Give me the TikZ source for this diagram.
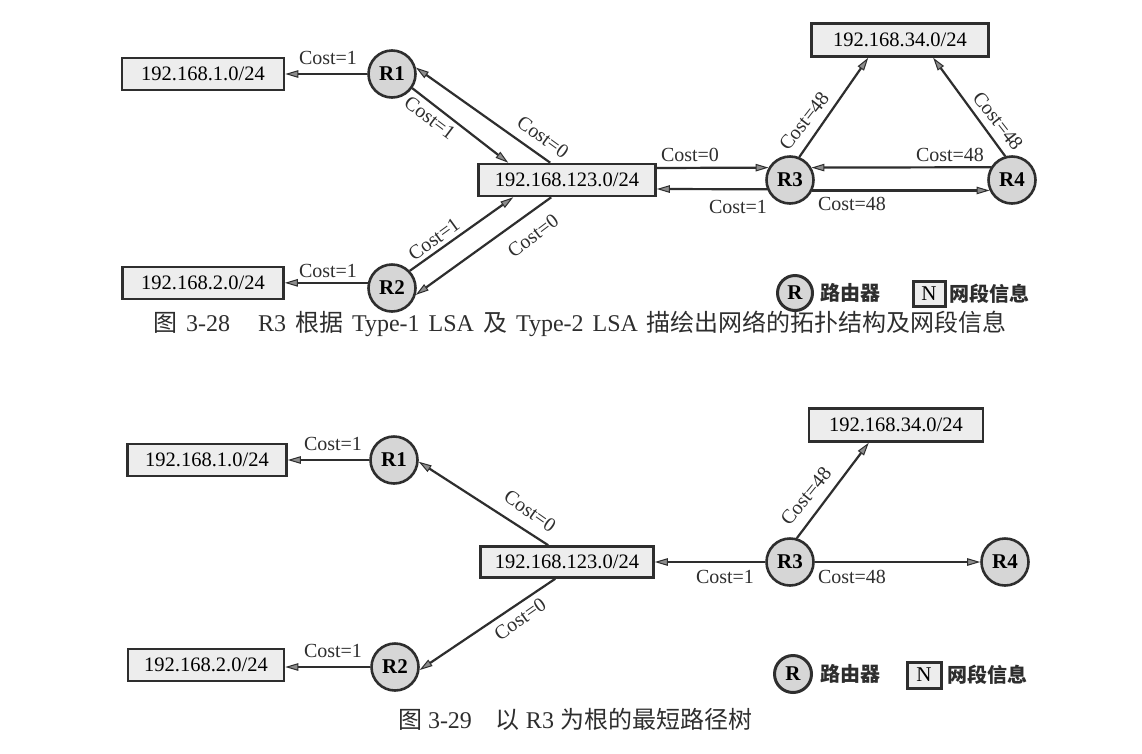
\documentclass[tikz,border=0pt]{standalone}
\usepackage{fontspec}
\setmainfont{Liberation Serif}
\newfontfamily\cjk{Noto Sans CJK SC}
\newcommand\zhc[1]{{\cjk #1}}
\newcommand\gp{\hspace{9pt}}
\usetikzlibrary{arrows.meta}
\definecolor{boxfill}{gray}{0.93}
\definecolor{nodefill}{gray}{0.84}
\definecolor{ink}{gray}{0.18}
\tikzset{
  net/.style={draw=ink, line width=2.6pt, fill=boxfill, minimum height=32pt, inner sep=0pt,
    font=\fontsize{20.5}{20.5}\selectfont},
  rtr/.style={circle, draw=ink, line width=2.6pt, fill=nodefill, minimum size=47pt, inner sep=0pt,
    font=\bfseries\fontsize{21}{21}\selectfont},
  conn/.style={draw=ink, line width=2.2pt,
    -{Triangle[length=13pt,width=7.5pt,line width=1pt,fill=black!45]}},
  lbl/.style={font=\fontsize{20}{20}\selectfont, inner sep=0pt, text=ink},
  legr/.style={circle, draw=ink, line width=3pt, fill=nodefill, minimum size=35pt, inner sep=0pt,
    font=\bfseries\fontsize{21}{21}\selectfont},
  legn/.style={draw=ink, line width=3pt, fill=boxfill, minimum width=32pt, minimum height=25pt,
    inner sep=0pt, font=\fontsize{21}{21}\selectfont},
  legt/.style={font=\cjk\bfseries\fontsize{20}{20}\selectfont, inner sep=0pt, text=ink},
  captxt/.style={font=\fontsize{24}{28}\selectfont, inner sep=0pt, text=ink}
}
\begin{document}
\begin{tikzpicture}[x=1pt,y=-1pt]
\fill[white] (0,0) rectangle (1142,753);
\useasboundingbox (0,0) rectangle (1142,753);

% ---------------- top diagram ----------------
\node[net, minimum width=162pt] (n1a) at (203,74) {192.168.1.0/24};
\node[rtr] (r1a) at (392,74) {R1};
\node[net, minimum width=161pt] (n2a) at (203,283) {192.168.2.0/24};
\node[rtr] (r2a) at (392,288) {R2};
\node[net, minimum width=177pt] (n123a) at (567,180) {192.168.123.0/24};
\node[rtr] (r3a) at (790,180) {R3};
\node[rtr] (r4a) at (1012,180) {R4};
\node[net, minimum width=177pt, minimum height=33pt] (n34a) at (900,40) {192.168.34.0/24};

\draw[conn] (r1a.west) -- (n1a.east);
\draw[conn] (r1a.325) -- ([xshift=31pt]n123a.north west);
\draw[conn] ([xshift=73pt]n123a.north west) -- (r1a.15);
\draw[conn] (r2a.168) -- (n2a.east |- r2a.168);
\draw[conn] (r2a.44) -- ([xshift=36pt]n123a.south west);
\draw[conn] ([xshift=74pt]n123a.south west) -- (r2a.-16);
\draw[conn] ([yshift=12pt]n123a.east) -- (r3a.150);
\draw[conn] (r3a.202) -- ([yshift=-9pt]n123a.east);
\draw[conn] (r4a.149) -- (r3a.30);
\draw[conn] (r3a.-25) -- (r4a.205);
\draw[conn] (r3a.68) -- ([xshift=58pt]n34a.south west);
\draw[conn] (r4a.106) -- ([xshift=123pt]n34a.south west);

\node[lbl] (la1) at (328,58) {Cost=1};
\node[lbl, rotate=-37] (la2) at (430,118) {Cost=1};
\node[lbl, rotate=-36] (la3) at (543,137) {Cost=0};
\node[lbl] (la4) at (328,271) {Cost=1};
\node[lbl, rotate=36] (la5) at (434,239) {Cost=1};
\node[lbl, rotate=37] (la6) at (533,236) {Cost=0};
\node[lbl] (la7) at (690,155) {Cost=0};
\node[lbl] (la8) at (738,207) {Cost=1};
\node[lbl] (la9) at (950,155) {Cost=48};
\node[lbl] (la10) at (852,204) {Cost=48};
\node[lbl, rotate=52] (la11) at (804,121) {Cost=48};
\node[lbl, rotate=-52] (la12) at (998,121) {Cost=48};

\node[legr] (lgra) at (795,293) {R};
\node[legt] (lgta) at (850,293) {路由器};
\node[legn] (lgna) at (929,294) {N};
\node[legt] (lgtb) at (989,294) {网段信息};

\node[captxt] (cap1) at (580,324) {\zhc{图}\gp 3-28\hspace{28pt}R3\gp\zhc{根据}\gp Type-1\gp LSA\gp\zhc{及}\gp Type-2\gp LSA\gp\zhc{描绘出网络的拓扑结构及网段信息}};

% ---------------- bottom diagram ----------------
\node[net, minimum width=159pt] (n1b) at (207,460) {192.168.1.0/24};
\node[rtr] (r1b) at (394,460) {R1};
\node[net, minimum width=156pt] (n2b) at (206,665) {192.168.2.0/24};
\node[rtr] (r2b) at (395,667) {R2};
\node[net, minimum width=173pt, minimum height=31pt] (n123b) at (567,562) {192.168.123.0/24};
\node[rtr] (r3b) at (790,562) {R3};
\node[rtr] (r4b) at (1005,562) {R4};
\node[net, minimum width=174pt, minimum height=33pt] (n34b) at (896,425) {192.168.34.0/24};

\draw[conn] (r1b.west) -- (n1b.east);
\draw[conn] (r2b.west) -- (n2b.east |- r2b.west);
\draw[conn] ([xshift=69pt]n123b.north west) -- (r1b.-4);
\draw[conn] ([xshift=76pt]n123b.south west) -- (r2b.-7);
\draw[conn] (r3b.west) -- (n123b.east);
\draw[conn] (r3b.east) -- (r4b.west);
\draw[conn] (r3b.74) -- ([xshift=61pt]n34b.south west);

\node[lbl] (lb1) at (333,444) {Cost=1};
\node[lbl] (lb2) at (333,651) {Cost=1};
\node[lbl, rotate=-35] (lb3) at (530,511) {Cost=0};
\node[lbl, rotate=35] (lb4) at (520,619) {Cost=0};
\node[lbl] (lb5) at (725,577) {Cost=1};
\node[lbl] (lb6) at (852,577) {Cost=48};
\node[lbl, rotate=51] (lb7) at (806,496) {Cost=48};

\node[legr, minimum size=37pt] (lgrb) at (793,674) {R};
\node[legt] (lgtc) at (850,674) {路由器};
\node[legn, minimum width=34pt, minimum height=26pt] (lgnb) at (924,675) {N};
\node[legt] (lgtd) at (987,675) {网段信息};

\node[captxt] (cap2) at (575,719) {\zhc{图} 3-29\quad \zhc{以} R3 \zhc{为根的最短路径树}};
\end{tikzpicture}
\end{document}
